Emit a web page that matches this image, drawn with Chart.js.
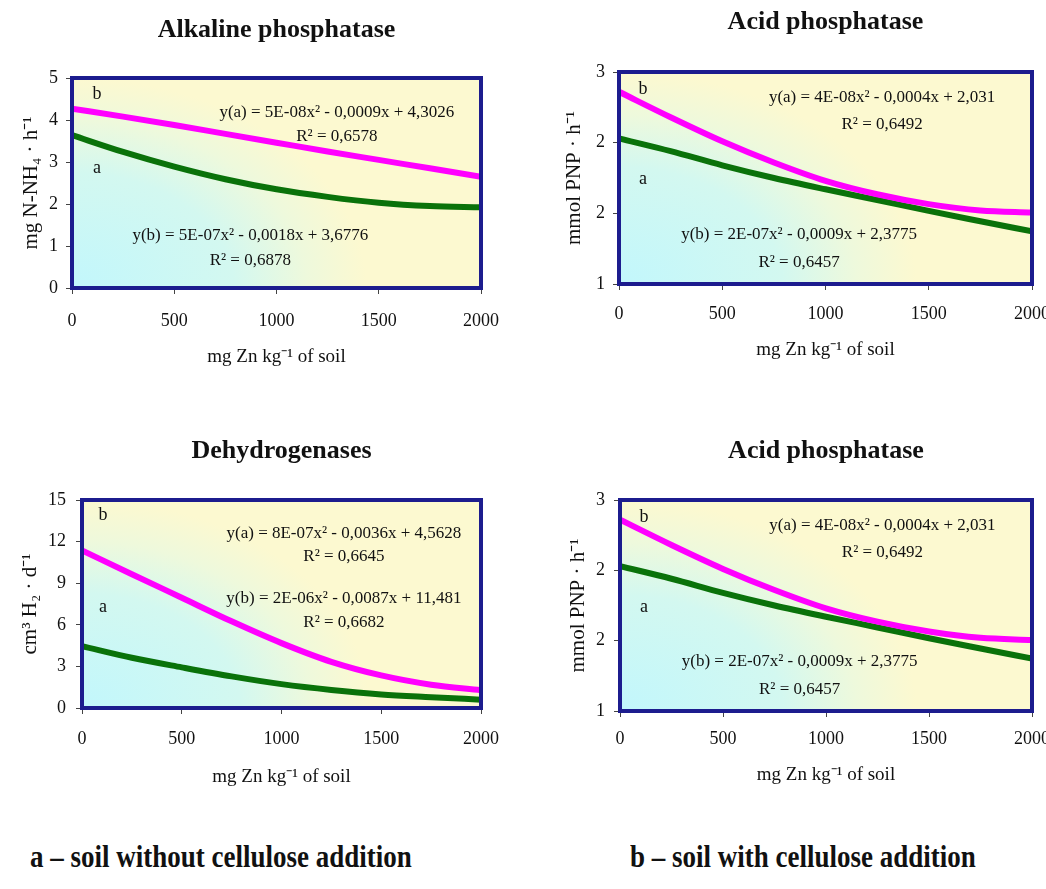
<!DOCTYPE html>
<html>
<head>
<meta charset="utf-8">
<script src="https://cdn.jsdelivr.net/npm/chart.js@4.4.1/dist/chart.umd.min.js"></script>
<style>
  html, body { margin: 0; padding: 0; background: #ffffff; width: 1046px; height: 889px; overflow: hidden; }
  canvas { position: absolute; }
  .note { position: absolute; font-family: "Liberation Serif", "Times New Roman", serif; font-weight: bold;
          font-size: 27px; color: #111; white-space: nowrap; transform-origin: left center; transform: scaleY(1.2); }
</style>
</head>
<body>
<canvas id="c1" width="520" height="390" style="left:0px;top:0px"></canvas>
<canvas id="c2" width="526" height="390" style="left:520px;top:0px"></canvas>
<canvas id="c3" width="520" height="400" style="left:0px;top:400px"></canvas>
<canvas id="c4" width="526" height="400" style="left:520px;top:400px"></canvas>
<div class="note" id="noteA" style="left:30px;top:841px"></div>
<div class="note" id="noteB" style="left:630px;top:841px"></div>
<script>
// ---------------- data ----------------
const zincDoses   = [0, 250, 500, 750, 1000, 1250, 1500, 1750, 2000];
const xTickValues = [0, 500, 1000, 1500, 2000];

// Alkaline phosphatase
const alkalineA = [3.64, 3.24, 2.89, 2.59, 2.35, 2.17, 2.03, 1.95, 1.92];   // green, a
const alkalineB = [4.27, 4.08, 3.88, 3.67, 3.46, 3.25, 3.05, 2.85, 2.65];   // magenta, b
const alkalineTicks = [0, 1, 2, 3, 4, 5];

// Acid phosphatase
const acidA = [2.03, 1.94, 1.84, 1.75, 1.67, 1.594, 1.517, 1.444, 1.372];   // green, a
const acidB = [2.36, 2.18, 2.01, 1.86, 1.73, 1.635, 1.565, 1.52, 1.505];    // magenta, b
const acidTicks = [1, 1.5, 2, 2.5];
const acidTickLabels = ['1', '2', '2', '3'];

// Dehydrogenases
const dehydA = [4.46, 3.62, 2.93, 2.28, 1.72, 1.30, 0.98, 0.78, 0.60];      // green, a
const dehydB = [11.36, 9.65, 7.95, 6.25, 4.68, 3.33, 2.35, 1.68, 1.28];     // magenta, b
const dehydTicks = [0, 3, 6, 9, 12, 15];

const titles = ['Alkaline phosphatase', 'Acid phosphatase', 'Dehydrogenases', 'Acid phosphatase'];
const yTitles = ['mg N-NH₄ · h⁻¹', 'mmol PNP · h⁻¹', 'cm³ H₂ · d⁻¹', 'mmol PNP · h⁻¹'];
const xTitle = 'mg Zn kg⁻¹ of soil';
const legendA = 'a – soil without cellulose addition';
const legendB = 'b – soil with cellulose addition';

const alkalineNotes = [
  { text: 'b', x: 122, y: 4.61 },
  { text: 'a', x: 122, y: 2.86 },
  { text: 'y(a) = 5E-08x² - 0,0009x + 4,3026', x: 1295, y: 4.18 },
  { text: 'R² = 0,6578', x: 1295, y: 3.60 },
  { text: 'y(b) = 5E-07x² - 0,0018x + 3,6776', x: 872, y: 1.25 },
  { text: 'R² = 0,6878', x: 872, y: 0.66 }
];
const acidNotes = [
  { text: 'b', x: 116, y: 2.38 },
  { text: 'a', x: 116, y: 1.74 },
  { text: 'y(a) = 4E-08x² - 0,0004x + 2,031', x: 1274, y: 2.32 },
  { text: 'R² = 0,6492', x: 1274, y: 2.13 },
  { text: 'y(b) = 2E-07x² - 0,0009x + 2,3775', x: 872, y: 1.35 },
  { text: 'R² = 0,6457', x: 872, y: 1.155 }
];
const dehydNotes = [
  { text: 'b', x: 105, y: 13.9 },
  { text: 'a', x: 105, y: 7.29 },
  { text: 'y(a) = 8E-07x² - 0,0036x + 4,5628', x: 1313, y: 12.6 },
  { text: 'R² = 0,6645', x: 1313, y: 10.9 },
  { text: 'y(b) = 2E-06x² - 0,0087x + 11,481', x: 1313, y: 7.86 },
  { text: 'R² = 0,6682', x: 1313, y: 6.13 }
];

// ---------------- drawing ----------------
const SERIF = '"Liberation Serif", "Times New Roman", serif';
const INK = '#111111';
const PINK = '#ff00ff';
const GREEN = '#0a720a';
const FRAME = '#1c1c8e';

const plotBackground = {
  id: 'plotBackground',
  beforeDatasetsDraw(chart) {
    const { ctx, chartArea: a } = chart;
    const w = a.right - a.left, h = a.bottom - a.top;
    const rx = w * 0.72, ry = h * 1.0;
    ctx.save();
    ctx.beginPath();
    ctx.rect(a.left, a.top, w, h);
    ctx.clip();
    ctx.translate(a.left, a.bottom);
    ctx.scale(rx, ry);
    const g = ctx.createRadialGradient(0, 0, 0, 0, 0, 1);
    g.addColorStop(0, '#c2f7fc');
    g.addColorStop(0.55, '#d3f8f0');
    g.addColorStop(0.8, '#eef9dc');
    g.addColorStop(1, '#fcf9d0');
    ctx.fillStyle = g;
    ctx.fillRect(0, -h / ry - 0.01, w / rx + 0.01, h / ry + 0.02);
    ctx.restore();
  }
};

const plotFrame = {
  id: 'plotFrame',
  afterDatasetsDraw(chart) {
    const { ctx, chartArea: a } = chart;
    ctx.save();
    ctx.strokeStyle = FRAME;
    ctx.lineWidth = 4;
    ctx.strokeRect(a.left, a.top, a.right - a.left, a.bottom - a.top);
    ctx.restore();
  }
};

function notesPlugin(items) {
  return {
    id: 'notes',
    afterDatasetsDraw(chart) {
      const { ctx, scales } = chart;
      ctx.save();
      ctx.fillStyle = INK;
      ctx.textAlign = 'center';
      ctx.textBaseline = 'middle';
      items.forEach(n => {
        ctx.font = (n.text.length === 1 ? '18px ' : '17px ') + SERIF;
        ctx.fillText(n.text, scales.x.getPixelForValue(n.x), scales.y.getPixelForValue(n.y));
      });
      ctx.restore();
    }
  };
}

function makeChart(id, c) {
  return new Chart(document.getElementById(id), {
    type: 'line',
    data: {
      datasets: [
        { data: zincDoses.map((x, i) => ({ x, y: c.b[i] })), borderColor: PINK, borderWidth: 6,
          pointRadius: 0, cubicInterpolationMode: 'monotone', fill: false },
        { data: zincDoses.map((x, i) => ({ x, y: c.a[i] })), borderColor: GREEN, borderWidth: 6,
          pointRadius: 0, cubicInterpolationMode: 'monotone', fill: false }
      ]
    },
    options: {
      responsive: false, animation: false, devicePixelRatio: 1,
      layout: { padding: { left: 0, right: c.padRight, top: 0, bottom: 0 } },
      plugins: {
        legend: { display: false }, tooltip: { enabled: false },
        title: { display: true, text: c.title, fullSize: false, color: INK,
                 font: { family: SERIF, size: 26, weight: 'bold', lineHeight: '28px' },
                 padding: { top: c.titleTop, bottom: c.titleBottom } }
      },
      scales: {
        x: {
          type: 'linear', min: 0, max: 2000,
          afterBuildTicks(s) { s.ticks = xTickValues.map(v => ({ value: v })); },
          afterFit(s) { s.height = c.xHeight; s.paddingLeft = 0; s.paddingRight = 0; },
          grid: { display: true, drawOnChartArea: false, drawTicks: true, tickLength: 6, color: '#444' },
          border: { display: false },
          ticks: { color: INK, font: { family: SERIF, size: 18 }, padding: c.xTickPad, maxRotation: 0, autoSkip: false,
                   callback: v => String(v) },
          title: { display: true, text: xTitle, color: INK, font: { family: SERIF, size: 19, lineHeight: '22px' },
                   padding: { top: 0, bottom: c.xTitleBottom } }
        },
        y: {
          type: 'linear', min: c.yTicks[0], max: c.yTicks[c.yTicks.length - 1],
          afterBuildTicks(s) { s.ticks = c.yTicks.map(v => ({ value: v })); },
          afterFit(s) { s.width = c.plotLeft; },
          grid: { display: true, drawOnChartArea: false, drawTicks: true, tickLength: 6, color: '#444' },
          border: { display: false },
          ticks: { color: INK, font: { family: SERIF, size: 18 }, padding: c.yTickPad, autoSkip: false,
                   callback: (v, i) => c.yLabels ? c.yLabels[i] : String(v) },
          title: { display: true, text: c.yTitle, color: INK, font: { family: SERIF, size: 21, lineHeight: '22px' },
                   padding: { top: c.yTitlePad, bottom: 0 } }
        }
      }
    },
    plugins: [plotBackground, plotFrame, notesPlugin(c.notes)]
  });
}

makeChart('c1', { title: titles[0], yTitle: yTitles[0], a: alkalineA, b: alkalineB, yTicks: alkalineTicks,
  notes: alkalineNotes, plotLeft: 72, padRight: 39, titleTop: 16, titleBottom: 34, xHeight: 102,
  xTickPad: 16, xTitleBottom: 22, yTickPad: 8, yTitlePad: 20 });
makeChart('c2', { title: titles[1], yTitle: yTitles[1], a: acidA, b: acidB, yTicks: acidTicks, yLabels: acidTickLabels,
  notes: acidNotes, plotLeft: 99, padRight: 14, titleTop: 8, titleBottom: 36, xHeight: 106,
  xTickPad: 13, xTitleBottom: 29, yTickPad: 8, yTitlePad: 43 });
makeChart('c3', { title: titles[2], yTitle: yTitles[2], a: dehydA, b: dehydB, yTicks: dehydTicks,
  notes: dehydNotes, plotLeft: 82, padRight: 39, titleTop: 37, titleBottom: 35, xHeight: 92,
  xTickPad: 14, xTitleBottom: 12, yTickPad: 10, yTitlePad: 19 });
makeChart('c4', { title: titles[3], yTitle: yTitles[3], a: acidA, b: acidB, yTicks: acidTicks, yLabels: acidTickLabels,
  notes: acidNotes, plotLeft: 100, padRight: 14, titleTop: 37, titleBottom: 35, xHeight: 89,
  xTickPad: 11, xTitleBottom: 14, yTickPad: 9, yTitlePad: 47 });

document.getElementById('noteA').textContent = legendA;
document.getElementById('noteB').textContent = legendB;
</script>
</body>
</html>
